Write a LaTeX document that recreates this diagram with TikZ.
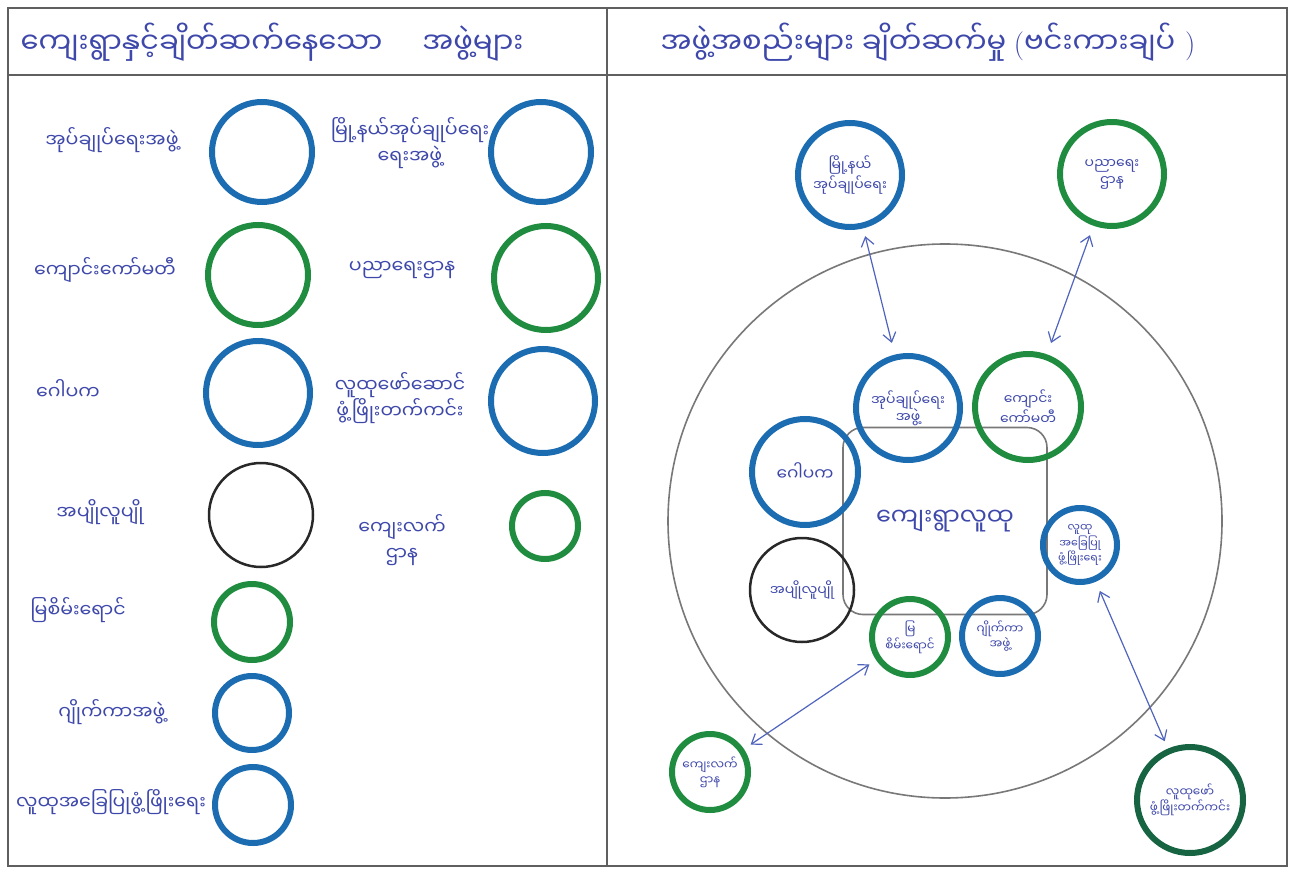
\documentclass[tikz,border=0pt]{standalone}
\usepackage{fontspec}
\usetikzlibrary{arrows.meta}
\newfontfamily\mm[Script=Myanmar]{Noto Sans Myanmar UI}
\definecolor{cblue}{RGB}{28,108,178}
\definecolor{cgreen}{RGB}{32,140,64}
\definecolor{cdkgreen}{RGB}{22,100,66}
\definecolor{cblack}{RGB}{40,40,40}
\definecolor{ink}{RGB}{62,72,170}
\definecolor{arrc}{RGB}{80,100,190}
\definecolor{frame}{RGB}{95,95,95}
\definecolor{gline}{RGB}{120,120,120}
\tikzset{
  org/.style={circle, draw, line width=6pt, inner sep=0pt, align=center,
    font=\mm\fontsize{14}{17}\selectfont, text=ink},
  bl/.style={org, draw=cblue},
  gr/.style={org, draw=cgreen},
  dg/.style={org, draw=cdkgreen},
  bk/.style={org, draw=cblack, line width=2.5pt},
  lab/.style={font=\mm\fontsize{19}{26}\selectfont, text=ink, align=center, inner sep=0pt},
  head/.style={font=\mm\fontsize{29}{33}\selectfont, text=ink, inner sep=0pt},
  conn/.style={{Straight Barb[length=9pt,width=13pt]}-{Straight Barb[length=9pt,width=13pt]}, draw=arrc, line width=1.2pt}
}
\begin{document}
\begin{tikzpicture}[x=1pt,y=-1pt]
\useasboundingbox[fill=white] (0,0) rectangle (1297,882);
% frame
\draw[frame, line width=2pt] (8,8) rectangle (1287,866);
\draw[frame, line width=2pt] (8,75) -- (1287,75);
\draw[frame, line width=2pt] (607,8) -- (607,866);
% headers
\node[head] (h1) at (272,42) {ကျေးရွာနှင့်ချိတ်ဆက်နေသော\hspace{40pt}အဖွဲ့များ};
\node[head] (h2) at (928,42) {အဖွဲ့အစည်းများ ချိတ်ဆက်မှု {\normalfont\fontsize{29}{33}\selectfont(}ဗင်းကားချပ်{\normalfont\fontsize{29}{33}\selectfont\hspace{10pt})}};
% left column
\node[bl, minimum size=100pt] (c1) at (262,152) {};
\node[gr, minimum size=100pt] (c2) at (258,275) {};
\node[bl, minimum size=104pt] (c3) at (258,393) {};
\node[bk, minimum size=104pt] (c4) at (261,515) {};
\node[gr, minimum size=76pt] (c5) at (252,622) {};
\node[bl, minimum size=74pt] (c6) at (252,713) {};
\node[bl, minimum size=76pt] (c7) at (253,805) {};
\node[lab] (l1) at (112,140) {အုပ်ချုပ်ရေးအဖွဲ့};
\node[lab] (l2) at (105,270) {ကျောင်းကော်မတီ};
\node[lab] (l3) at (68,390) {ဂေါပက};
\node[lab] (l4) at (100,512) {အပျိုလူပျို};
\node[lab] (l5) at (78,610) {မြစိမ်းရောင်};
\node[lab] (l6) at (112,712) {ဂျိုက်ကာအဖွဲ့};
\node[lab] (l7) at (111,802) {လူထုအခြေပြုဖွံ့ဖြိုးရေး};
% second column
\node[bl, minimum size=100pt] (d1) at (541,152) {};
\node[gr, minimum size=104pt] (d2) at (546,278) {};
\node[bl, minimum size=104pt] (d3) at (543,401) {};
\node[gr, minimum size=66pt] (d4) at (545,526) {};
\node[lab] (m1) at (410,143) {မြို့နယ်အုပ်ချုပ်ရေး\\ရေးအဖွဲ့};
\node[lab] (m2) at (402,270) {ပညာရေးဌာန};
\node[lab] (m3) at (400,398) {လူထုဖော်ဆောင်\\ဖွံ့ဖြိုးတက်ကင်း};
\node[lab] (m4) at (402,540) {ကျေးလက်\\ဌာန};
% Venn diagram
\node[draw=gline, line width=1.6pt, circle, minimum size=554pt, inner sep=0pt] (big) at (945,521) {};
\node[draw=gline, line width=1.6pt, rounded corners=20pt, minimum width=204pt, minimum height=187pt, inner sep=0pt,
  font=\mm\fontsize{24}{28}\selectfont, text=ink] (core) at (945,521) {ကျေးရွာလူထု};
\node[bl, minimum size=104pt] (adm) at (908,408) {အုပ်ချုပ်ရေး\\အဖွဲ့};
\node[gr, minimum size=106pt] (sch) at (1028,407) {ကျောင်း\\ကော်မတီ};
\node[bl, minimum size=106pt, font=\mm\fontsize{17}{20}\selectfont] (gop) at (805,472) {ဂေါပက};
\node[bk, minimum size=104pt] (you) at (802,590) {အပျိုလူပျို};
\node[gr, minimum size=76pt, font=\mm\fontsize{12}{15}\selectfont] (myr) at (910,637) {မြ\\စိမ်းရောင်};
\node[bl, minimum size=76pt, font=\mm\fontsize{12}{15}\selectfont] (jic) at (1000,636) {ဂျိုက်ကာ\\အဖွဲ့};
\node[bl, minimum size=74pt, font=\mm\fontsize{11}{13}\selectfont] (com) at (1080,545) {လူထု\\အခြေပြု\\ဖွံ့ဖြိုးရေး};
\node[bl, minimum size=104pt] (tsp) at (850,175) {မြို့နယ်\\အုပ်ချုပ်ရေး};
\node[gr, minimum size=104pt] (edu) at (1112,174) {ပညာရေး\\ဌာန};
\node[gr, minimum size=76pt, font=\mm\fontsize{12}{15}\selectfont] (rur) at (710,772) {ကျေးလက်\\ဌာန};
\node[dg, minimum size=106pt, font=\mm\fontsize{12}{16}\selectfont] (dev) at (1190,800) {လူထုဖော်\\ဖွံ့ဖြိုးတက်ကင်း};
% connectors
\draw[conn, shorten <=8pt, shorten >=12pt] (tsp) -- (adm);
\draw[conn, shorten <=10pt, shorten >=12pt] (edu) -- (sch);
\draw[conn, shorten <=8pt, shorten >=8pt] (myr) -- (rur);
\draw[conn, shorten <=10pt, shorten >=8pt] (com) -- (dev);
\end{tikzpicture}
\end{document}
